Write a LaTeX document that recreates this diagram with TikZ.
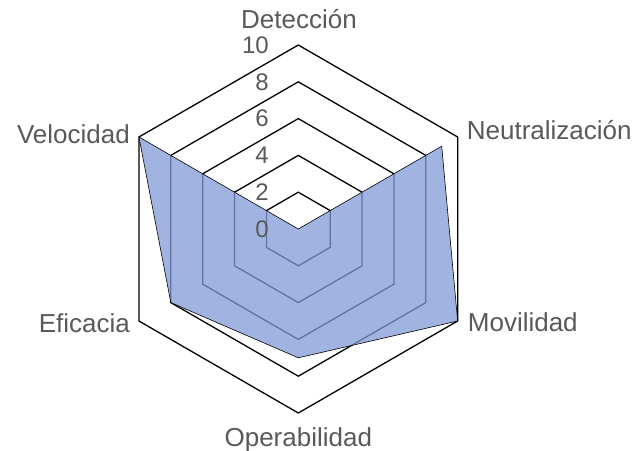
\documentclass[tikz,border=0pt]{standalone}
\usepackage{fontspec}
\setmainfont{Liberation Sans}
\definecolor{textGray}{HTML}{595959}
\definecolor{areaBlue}{RGB}{130,155,215}
\begin{document}
\begin{tikzpicture}
        [x=1pt, y=1pt,
        grid/.style={line width=1.3pt, black, line join=miter},
        area/.style={fill=areaBlue, fill opacity=0.75, draw=black, line width=0.6pt},
        axis/.style={font=\fontsize{26}{31}\selectfont, text=textGray, inner sep=0pt},
        tick/.style={font=\fontsize{24}{28}\selectfont, text=textGray, inner sep=0pt, anchor=east}]
        \useasboundingbox (-298.3,-221) rectangle (335.7,229);

        % hexagonal grid, one ring per 2 units (18.4pt per unit)
        \foreach \v in {2,4,...,10}
            \draw[grid] (90:18.4*\v) -- (30:18.4*\v) -- (-30:18.4*\v) -- (-90:18.4*\v) -- (210:18.4*\v) -- (150:18.4*\v) -- cycle;

        % data: 0, 9, 10, 7, 8, 10
        \draw[area] (0,0) -- (30:18.4*9) -- (-30:18.4*10) -- (-90:18.4*7) -- (210:18.4*8) -- (150:18.4*10) -- cycle;

        \node[axis, anchor=base] (Det) at (0.7,200) {Detección};
        \node[axis, anchor=base west] (Neu) at (168.4,89) {Neutralización};
        \node[axis, anchor=base west] (Mov) at (169.4,-102) {Movilidad};
        \node[axis, anchor=base] (Ope) at (0,-217) {Operabilidad};
        \node[axis, anchor=base east] (Efi) at (-168.3,-103.3) {Eficacia};
        \node[axis, anchor=base east] (Vel) at (-168.3,85.7) {Velocidad};

        \foreach \v in {0,2,...,10}
            \node[tick] (t\v) at (-29.3,18.4*\v) {\v};
    \end{tikzpicture}
\end{document}
